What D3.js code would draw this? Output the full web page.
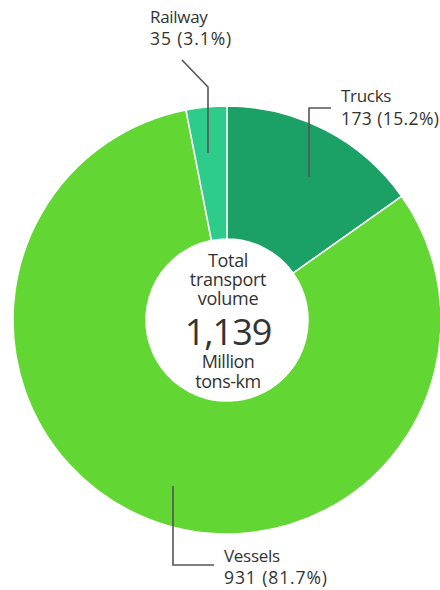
<!DOCTYPE html>
<html>
<head>
<meta charset="utf-8">
<script src="https://cdn.jsdelivr.net/npm/d3@7"></script>
<style>
  html, body { margin: 0; padding: 0; background: #fff; }
  svg text { font-family: "Open Sans", "Noto Sans", sans-serif; fill: #333; }
</style>
</head>
<body>
<svg id="chart" width="440" height="590"></svg>
<script>
// ---- data ----
const categories = ["Trucks", "Vessels", "Railway"];
const values = [173, 931, 35];
const percents = ["15.2%", "81.7%", "3.1%"];
const totalLabel = ["Total", "transport", "volume"];
const totalValue = "1,139";
const unitLabel = ["Million", "tons-km"];

// ---- layout ----
const cx = 227, cy = 320, R = 214, r = 81;
const colors = d3.scaleOrdinal().domain(categories).range(["#1ba065", "#62d733", "#2ecc8a"]);

const svg = d3.select("#chart");
const g = svg.append("g").attr("transform", `translate(${cx},${cy})`);

const pie = d3.pie().value(d => d.value).sort(null);
const arc = d3.arc().innerRadius(r).outerRadius(R);
const data = categories.map((c, i) => ({ name: c, value: values[i], pct: percents[i] }));
const arcs = pie(data);

g.selectAll("path.slice").data(arcs).join("path")
  .attr("class", "slice")
  .attr("d", arc)
  .attr("fill", d => colors(d.data.name))
  .attr("stroke", "#fff")
  .attr("stroke-width", 1.5);

// leader lines and labels (annotation layout, absolute page coords)
const labelLayout = {
  "Railway": { x: 150, y1: 23, y2: 45, ls: 0.9, path: [[208,153],[208,87],[182,60]] },
  "Trucks":  { x: 341, y1: 102, y2: 125, ls: 0.4, path: [[309,177],[309,108],[331,108]] },
  "Vessels": { x: 224, y1: 562, y2: 584, ls: 0.9, path: [[173,486],[173,565],[214,565]] }
};

const ann = svg.append("g");
arcs.forEach(a => {
  const L = labelLayout[a.data.name];
  ann.append("path")
    .attr("d", d3.line()(L.path))
    .attr("fill", "none")
    .attr("stroke", "#555")
    .attr("stroke-width", 1.6);
  ann.append("text").attr("x", L.x).attr("y", L.y1)
    .attr("font-size", 17).attr("letter-spacing", -0.3)
    .text(a.data.name);
  ann.append("text").attr("x", L.x).attr("y", L.y2)
    .attr("font-size", 17.5).attr("letter-spacing", L.ls)
    .text(`${d3.format(",")(a.data.value)} (${a.data.pct})`);
});

// center text
const center = svg.append("g").attr("text-anchor", "middle");
[267, 286, 305].forEach((y, i) => {
  center.append("text").attr("x", cx + 1).attr("y", y)
    .attr("font-size", 18).attr("letter-spacing", -0.3).text(totalLabel[i]);
});
center.append("text").attr("x", cx + 1).attr("y", 345)
  .attr("font-size", 36).attr("letter-spacing", -1).text(totalValue);
[368, 388].forEach((y, i) => {
  center.append("text").attr("x", cx + 1).attr("y", y)
    .attr("font-size", 18).attr("letter-spacing", -0.5).text(unitLabel[i]);
});
</script>
</body>
</html>
